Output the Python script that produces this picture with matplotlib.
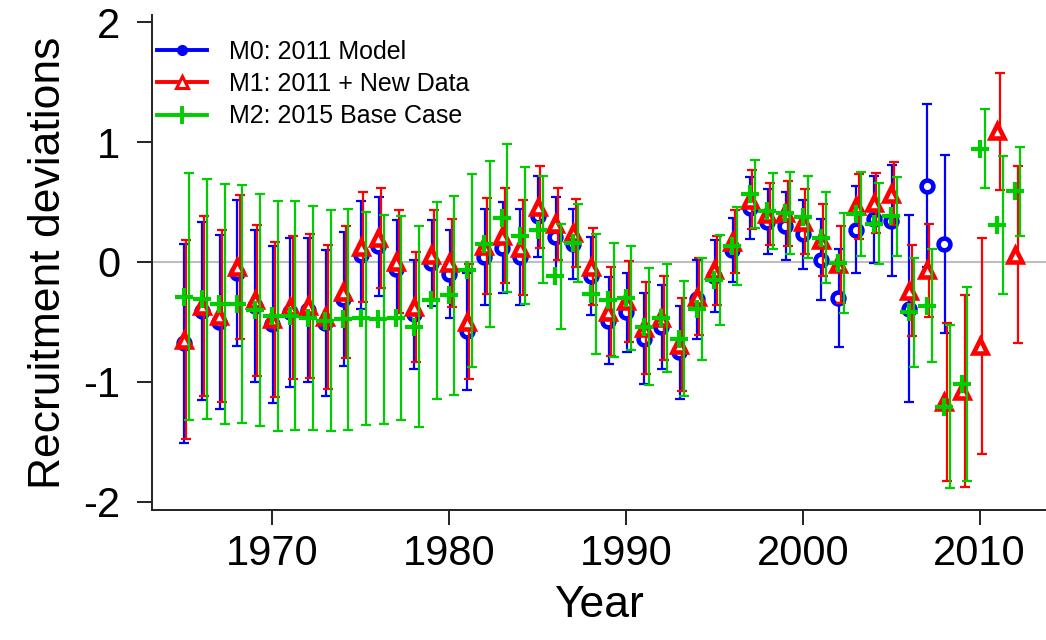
import numpy as np
import matplotlib
matplotlib.use("Agg")
import matplotlib.pyplot as plt
from matplotlib.lines import Line2D

plt.rcParams["font.family"] = ["Liberation Sans", "DejaVu Sans"]
plt.rcParams["axes.unicode_minus"] = False

# recruitment deviations and half-widths of the interval bars
years_m0 = np.arange(1965, 2009)
dev_m0 = [-0.68, -0.41, -0.50, -0.09, -0.37, -0.52, -0.42, -0.40, -0.51, -0.31,
          0.06, 0.13, -0.06, -0.435, -0.01, -0.10, -0.58, 0.04, 0.12, 0.04,
          0.38, 0.21, 0.15, -0.12, -0.49, -0.42, -0.64, -0.54, -0.755, -0.31,
          -0.12, 0.10, 0.45, 0.335, 0.30, 0.23, 0.02, -0.30, 0.27, 0.355,
          0.345, -0.39, 0.635, 0.15]
err_m0 = [0.83, 0.74, 0.725, 0.61, 0.635, 0.655, 0.62, 0.60, 0.61, 0.56,
          0.45, 0.415, 0.41, 0.455, 0.36, 0.37, 0.49, 0.40, 0.38, 0.40,
          0.34, 0.33, 0.29, 0.325, 0.36, 0.33, 0.38, 0.35, 0.385, 0.33,
          0.30, 0.27, 0.255, 0.27, 0.285, 0.29, 0.34, 0.41, 0.36, 0.36,
          0.465, 0.78, 0.68, 0.74]

years_m1 = np.arange(1965, 2013)
dev_m1 = [-0.65, -0.37, -0.45, -0.04, -0.32, -0.48, -0.38, -0.37, -0.46, -0.25,
          0.125, 0.20, 0.0, -0.375, 0.06, -0.01, -0.50, 0.13, 0.22, 0.12,
          0.46, 0.32, 0.24, -0.04, -0.415, -0.33, -0.55, -0.47, -0.69, -0.29,
          -0.07, 0.17, 0.52, 0.40, 0.405, 0.335, 0.18, -0.02, 0.465, 0.495,
          0.57, -0.24, -0.07, -1.17, -1.08, -0.70, 1.09, 0.06]
err_m1 = [0.83, 0.75, 0.72, 0.60, 0.63, 0.645, 0.60, 0.60, 0.60, 0.55,
          0.46, 0.42, 0.43, 0.46, 0.37, 0.37, 0.48, 0.40, 0.395, 0.40,
          0.34, 0.30, 0.285, 0.32, 0.37, 0.335, 0.385, 0.35, 0.39, 0.32,
          0.29, 0.26, 0.245, 0.255, 0.27, 0.27, 0.30, 0.32, 0.27, 0.25,
          0.26, 0.38, 0.39, 0.66, 0.80, 0.90, 0.49, 0.74]

years_m2 = np.arange(1965, 2013)
dev_m2 = [-0.29, -0.31, -0.35, -0.35, -0.40, -0.45, -0.45, -0.47, -0.49, -0.48,
          -0.47, -0.48, -0.47, -0.54, -0.32, -0.28, -0.07, 0.15, 0.365, 0.22,
          0.27, -0.12, 0.155, -0.265, -0.315, -0.30, -0.54, -0.47, -0.64, -0.395,
          -0.15, 0.13, 0.565, 0.425, 0.41, 0.375, 0.20, -0.01, 0.40, 0.32,
          0.38, -0.42, -0.365, -1.21, -1.02, 0.945, 0.305, 0.59]
err_m2 = [1.03, 1.00, 1.00, 0.99, 0.97, 0.96, 0.955, 0.935, 0.925, 0.92,
          0.89, 0.875, 0.85, 0.84, 0.82, 0.83, 0.805, 0.69, 0.62, 0.575,
          0.45, 0.44, 0.325, 0.50, 0.475, 0.435, 0.49, 0.45, 0.48, 0.425,
          0.375, 0.325, 0.285, 0.32, 0.34, 0.34, 0.38, 0.415, 0.35, 0.34,
          0.33, 0.455, 0.47, 0.68, 0.81, 0.33, 0.575, 0.37]

labels = ["M0: 2011 Model", "M1: 2011 + New Data", "M2: 2015 Base Case"]
blue, red, green = "#0000FF", "#FF0000", "#00CD00"

fig = plt.figure(figsize=(10.46, 6.4), dpi=100)
ax = fig.add_axes([152 / 1046, 130 / 640, 894 / 1046, 495 / 640])

ax.axhline(0, color="#BEBEBE", lw=1.5, zorder=0)

series = [
    (years_m0, dev_m0, err_m0, blue, "o", 8.5, 0.03),
    (years_m1, dev_m1, err_m1, red, "^", 10.5, 0.15),
    (years_m2, dev_m2, err_m2, green, "+", 13, 0.30),
]
for yrs, dev, err, col, mk, ms, shift in series:
    ax.errorbar(yrs + shift, dev, yerr=err, fmt="none", ecolor=col,
                elinewidth=1.6, capsize=3.5, capthick=1.6)
    if mk == "+":
        ax.plot(yrs, dev, ls="none", marker=mk, ms=ms, mew=3.0, color=col)
    else:
        ax.plot(yrs, dev, ls="none", marker=mk, ms=ms, mew=3.3,
                mec=col, mfc="white", color=col)

ax.set_xlim(1963.2, 2013.75)
ax.set_ylim(-2.07, 2.06)
ax.set_xticks([1970, 1980, 1990, 2000, 2010])
ax.set_yticks([-2, -1, 0, 1, 2])
ax.spines["top"].set_visible(False)
ax.spines["right"].set_visible(False)
for s in ("left", "bottom"):
    ax.spines[s].set_linewidth(1.4)
    ax.spines[s].set_color("#222222")
ax.tick_params(axis="both", direction="out", length=11, width=1.4,
               color="#222222", labelsize=30)
ax.tick_params(axis="y", pad=12)
ax.tick_params(axis="x", pad=6)

ax.set_xlabel("Year", fontsize=32, labelpad=8)
ax.set_ylabel("Recruitment deviations", fontsize=32, labelpad=10)

handles = [
    Line2D([], [], color=blue, lw=2.8, marker="o", ms=7, mfc=blue),
    Line2D([], [], color=red, lw=2.8, marker="^", ms=8, mfc="white", mew=2.2),
    Line2D([], [], color=green, lw=2.8, marker="+", ms=13, mew=2.8),
]
ax.legend(handles, labels, loc="upper left", bbox_to_anchor=(0.006, 0.95),
          frameon=False, fontsize=18, handlelength=2.0, handletextpad=0.85,
          labelspacing=0.33, borderaxespad=0, borderpad=0)

fig.savefig("out.png", dpi=100)
